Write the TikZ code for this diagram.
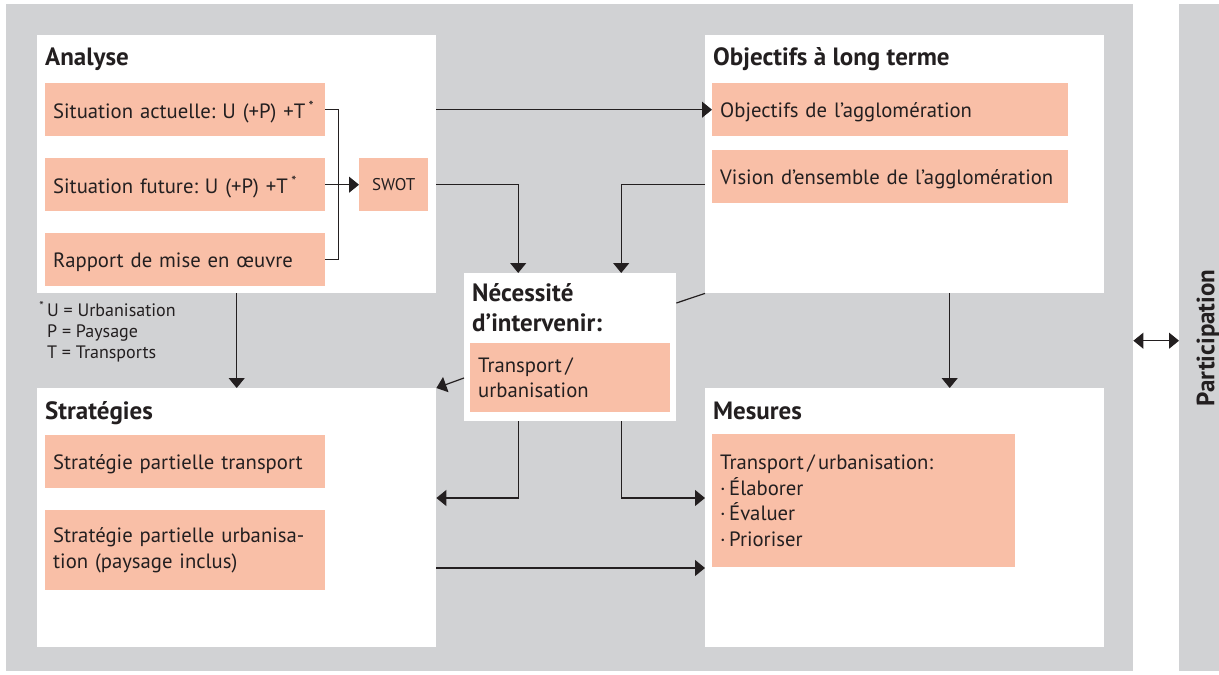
\documentclass[tikz,border=0pt]{standalone}
\usepackage{fontspec}
\setmainfont{PT Sans}
\usetikzlibrary{arrows.meta}

\begin{document}
\frenchspacing
\begin{tikzpicture}[x=1pt, y=-1pt,
	panel/.style={fill=white, inner sep=0pt, anchor=north west},
	cbox/.style={fill=cBox, text=cText, anchor=north west, inner xsep=8pt, inner ysep=0pt,
		align=left, font=\fontsize{20.7}{25.5}\selectfont},
	oneline/.style={text depth=0pt},
	head/.style={text=cText, anchor=base west, inner sep=0pt, font=\fontsize{25}{30}\selectfont\bfseries},
	line/.style={draw=cLine, line width=1.2pt},
	arr/.style={-{Triangle[length=10pt,width=16pt]}}]
	\definecolor{cBackground}{HTML}{D1D2D4}
	\definecolor{cBox}{HTML}{F9BFA7}
	\definecolor{cText}{HTML}{231F20}
	\definecolor{cLine}{HTML}{231F20}

	\useasboundingbox (0,0) rectangle (1219,675);

	\node[panel, fill=cBackground, minimum width=1127, minimum height=667] (bg) at (6,4) {};
	\node[panel, fill=cBackground, minimum width=40, minimum height=667] (strip) at (1179,4) {};

	\node[panel, minimum width=399, minimum height=258] (analyse) at (37,35) {};
	\node[panel, minimum width=399, minimum height=258] (objectifs) at (705,35) {};
	\node[panel, minimum width=399, minimum height=259] (strat) at (37,388) {};
	\node[panel, minimum width=399, minimum height=259] (mesures) at (705,388) {};
	\node[panel, minimum width=212, minimum height=148] (necess) at (464,273) {};

	\node[head] (tAnalyse) at (45,65) {Analyse};
	\node[head] (tObjectifs) at (713,65) {Objectifs à long terme};
	\node[head] (tStrat) at (45,419) {Stratégies};
	\node[head] (tMesures) at (713,419) {Mesures};
	\node[head, anchor=north west, align=left] (tNecess) at (472,283) {Nécessité\\d’intervenir:};
	\node[head, anchor=center, rotate=90] (tPart) at (1208,338) {Participation};

	\node[cbox, oneline, text width=264, minimum height=53] (actuelle) at (45,83) {\mbox{Situation actuelle: U (+P) +T\,\textsuperscript{*}}};
	\node[cbox, oneline, text width=264, minimum height=53] (future) at (45,158) {Situation future: U (+P) +T\,\textsuperscript{*}};
	\node[cbox, oneline, text width=264, minimum height=53] (rapport) at (45,233) {Rapport de mise en œuvre};
	\node[cbox, oneline, align=center, minimum width=69, minimum height=53, inner xsep=0pt, font=\fontsize{17}{20}\selectfont] (swot) at (359,158) {SWOT};
	\node[cbox, oneline, text width=340, minimum height=53] (objag) at (712,83) {Objectifs de l’agglomération};
	\node[cbox, oneline, text width=340, minimum height=53] (vision) at (712,150) {Vision d’ensemble de l’agglomération};
	\node[cbox, text width=184, minimum height=69] (transp) at (470,343) {Transport\,/\\urbanisation};
	\node[cbox, oneline, text width=264, minimum height=53] (spt) at (45,435) {Stratégie partielle transport};
	\node[cbox, text width=264, minimum height=80] (spu) at (45,510) {Stratégie partielle urbanisa-\\tion (paysage inclus)};
	\node[cbox, text width=287, minimum height=133] (mes) at (712,434) {Transport\,/\,urbanisation:\\·\,Élaborer\\·\,Évaluer\\·\,Prioriser};

	\node[text=cText, anchor=north west, inner sep=0pt, align=left, font=\fontsize{18}{21}\selectfont] (note) at (47,301)
		{\llap{\textsuperscript{*}\,}U = Urbanisation\\P = Paysage\\T = Transports};

	\draw[line] (actuelle.east) -- ++(13,0) |- (rapport.east);
	\draw[line, arr] (future.east) -- (swot.west);
	\draw[line, arr] (actuelle.east -| analyse.east) -- (objag.west);
	\draw[line, arr] (swot.east -| analyse.east) -| ([xshift=-52pt]necess.north);
	\draw[line, arr] (swot.east -| objectifs.west) -| ([xshift=51pt]necess.north);
	\draw[line] ([yshift=-30pt]necess.north east) -- (objectifs.south west);
	\draw[line, arr] ([yshift=-105pt]necess.north west) -- (strat.north east);
	\draw[line, arr] ([xshift=-52pt]necess.south) |- ([yshift=-110pt]strat.north east);
	\draw[line, arr] ([xshift=51pt]necess.south) |- ([yshift=-110pt]mesures.north west);
	\draw[line, arr] ([yshift=-180pt]strat.north east) -- ([yshift=-180pt]mesures.north west);
	\draw[line, arr] (analyse.south) -- (strat.north);
	\draw[line, arr] ([xshift=45pt]objectifs.south) -- ([xshift=45pt]mesures.north);
	\draw[line, {Triangle[length=10pt,width=16pt]}-{Triangle[length=10pt,width=16pt]}] ([yshift=-3pt]bg.east) -- ([yshift=-3pt]strip.west);
\end{tikzpicture}
\end{document}
